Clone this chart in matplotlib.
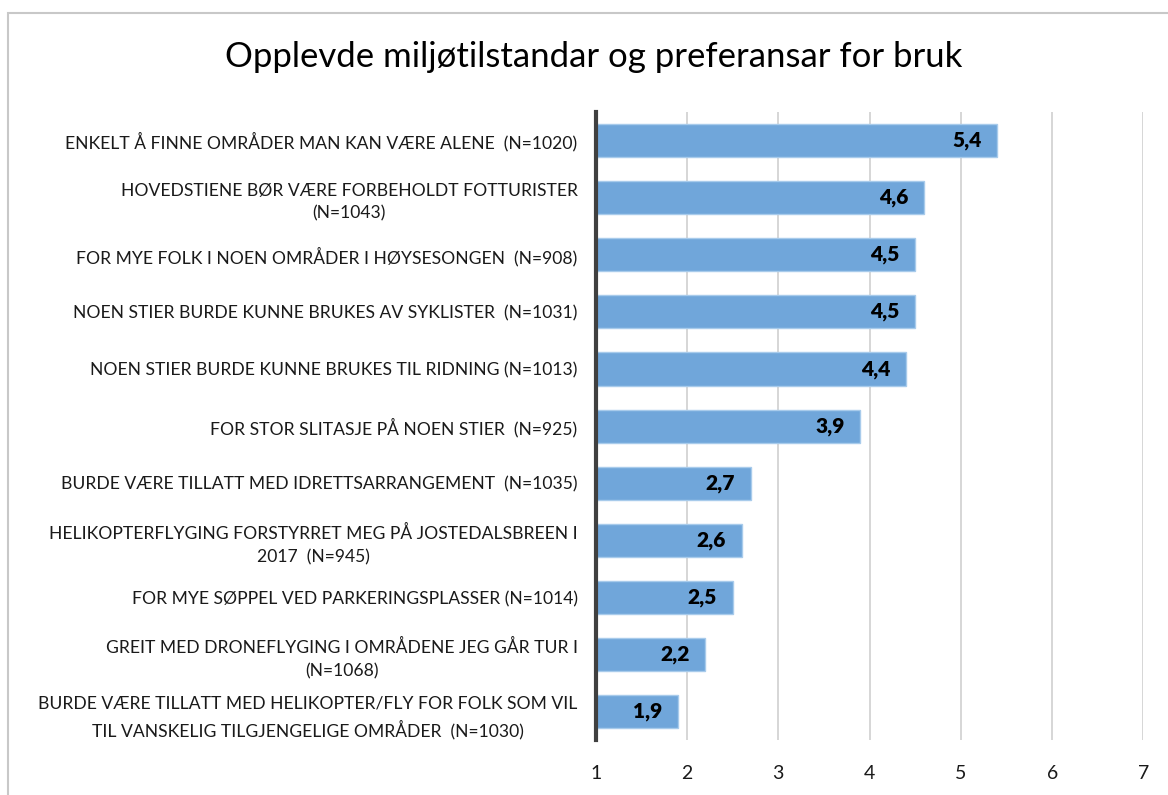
import matplotlib
matplotlib.use("Agg")
import matplotlib.pyplot as plt
from matplotlib.patches import Rectangle

plt.rcParams['font.family'] = ['Lato', 'DejaVu Sans']

title = "Opplevde miljøtilstandar og preferansar for bruk"
categories = [
    "ENKELT Å FINNE OMRÅDER MAN KAN VÆRE ALENE  (N=1020)",
    "HOVEDSTIENE BØR VÆRE FORBEHOLDT FOTTURISTER\n(N=1043)",
    "FOR MYE FOLK I NOEN OMRÅDER I HØYSESONGEN  (N=908)",
    "NOEN STIER BURDE KUNNE BRUKES AV SYKLISTER  (N=1031)",
    "NOEN STIER BURDE KUNNE BRUKES TIL RIDNING (N=1013)",
    "FOR STOR SLITASJE PÅ NOEN STIER  (N=925)",
    "BURDE VÆRE TILLATT MED IDRETTSARRANGEMENT  (N=1035)",
    "HELIKOPTERFLYGING FORSTYRRET MEG PÅ JOSTEDALSBREEN I\n2017  (N=945)",
    "FOR MYE SØPPEL VED PARKERINGSPLASSER (N=1014)",
    "GREIT MED DRONEFLYGING I OMRÅDENE JEG GÅR TUR I\n(N=1068)",
    "BURDE VÆRE TILLATT MED HELIKOPTER/FLY FOR FOLK SOM VIL\nTIL VANSKELIG TILGJENGELIGE OMRÅDER  (N=1030)",
]
values = [5.4, 4.6, 4.5, 4.5, 4.4, 3.9, 2.7, 2.6, 2.5, 2.2, 1.9]
xticks = [1, 2, 3, 4, 5, 6, 7]

fig = plt.figure(figsize=(11.68, 7.95), dpi=100)
ax = fig.add_axes([0.510, 0.069, 0.469, 0.790])

# figure border (left/top visible)
fig.patches.append(Rectangle((8/1168, -0.01), 1.2, 1 - 13/795 + 0.01, transform=fig.transFigure,
                             fill=False, edgecolor='#C8C8C8', linewidth=1.5))

ypos = list(range(len(categories)))
base = 1
bars = ax.barh(ypos, [v - base for v in values], left=base, height=0.58,
               color='#70A6DA', edgecolor='#A8CBEB', linewidth=1, zorder=3)
ax.set_ylim(len(categories) - 0.5, -0.5)
ax.set_xlim(1, 7)
ax.set_xticks(xticks)
ax.set_xticklabels([str(t) for t in xticks])
ax.set_yticks(ypos)
ax.set_yticklabels(categories, fontsize=12.6, color='#1a1a1a')
for lab in ax.get_yticklabels():
    lab.set_multialignment('center')
    lab.set_linespacing(1.5)
ax.tick_params(axis='y', length=0, pad=13)
ax.tick_params(axis='x', length=0, pad=18, labelsize=14, labelcolor='#1a1a1a')

ax.grid(axis='x', color='#D0D0D0', linewidth=1.2, zorder=0)
for s in ['top', 'right', 'bottom']:
    ax.spines[s].set_visible(False)
ax.spines['left'].set_color('#404040')
ax.spines['left'].set_linewidth(3)
ax.spines['left'].set_zorder(5)

for y, v in zip(ypos, values):
    ax.text(v - 0.17, y, f"{v:.1f}".replace('.', ','), ha='right', va='center',
            fontsize=15, fontweight='heavy', color='black', zorder=4)

fig.text(594/1168, 1 - 57/795, title, ha='center', va='center', fontsize=25, color='black')

fig.savefig('out.png', dpi=100)
